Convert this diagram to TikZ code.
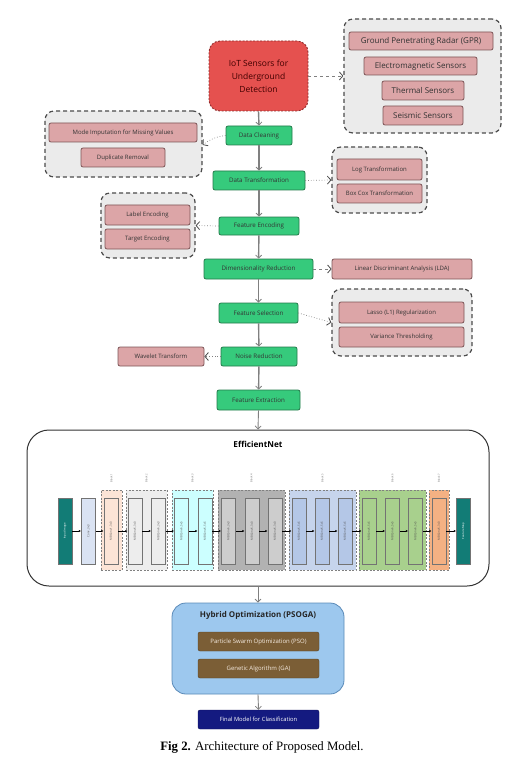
\documentclass[tikz,border=0pt]{standalone}
\usepackage{fontspec}
\setmainfont{Open Sans}
\newfontfamily\capfont{Liberation Serif}
\usetikzlibrary{arrows.meta}
\definecolor{iotred}{HTML}{E5514F}
\definecolor{iotline}{HTML}{8E2B2B}
\definecolor{grpfill}{HTML}{EBEBEB}
\definecolor{pinkfill}{HTML}{DCA5A7}
\definecolor{pinkline}{HTML}{7D5557}
\definecolor{stepgreen}{HTML}{36CA7C}
\definecolor{stepline}{HTML}{23794A}
\definecolor{hybblue}{HTML}{9DC8EE}
\definecolor{hybline}{HTML}{5A8AB8}
\definecolor{psobrown}{HTML}{7B5E36}
\definecolor{finalnavy}{HTML}{141A80}
\definecolor{inputteal}{HTML}{127C76}
\definecolor{convblue}{HTML}{DAE3F3}
\definecolor{blkone}{HTML}{FCE4D6}
\definecolor{blktwo}{HTML}{EDEDED}
\definecolor{blkthree}{HTML}{CCFFFF}
\definecolor{blkfour}{HTML}{B2B2B2}
\definecolor{blkfourin}{HTML}{CDCDCD}
\definecolor{blkfive}{HTML}{C6D4EC}
\definecolor{blkfivein}{HTML}{B4C7E7}
\definecolor{blksix}{HTML}{A8D08D}
\definecolor{blkseven}{HTML}{F4B183}

\begin{document}
\begin{tikzpicture}[x=1pt,y=-1pt,
  stepbox/.style={draw=stepline,fill=stepgreen,rounded corners=2,line width=0.8,inner sep=0,minimum height=19,text=black!80,font=\fontsize{6.2}{7}\selectfont},
  pinkbox/.style={draw=pinkline,fill=pinkfill,rounded corners=2,line width=0.8,inner sep=0,minimum height=19,text=black!80,font=\fontsize{6}{7}\selectfont},
  grpbox/.style={draw=black!70,fill=grpfill,dashed,dash pattern=on 4 off 3,rounded corners=9,line width=1.2,inner sep=0},
  mainarrow/.style={draw=black!50,line width=1.4,-{Straight Barb[length=3,width=6,line width=0.8]}},
  sidearrow/.style={draw=black!50,line width=0.7,dotted,-{Straight Barb[length=3.5,width=8,line width=0.8,black!70]}},
  mbbox/.style={draw=black!55,line width=0.5,rotate=90,minimum width=66,minimum height=14,inner sep=0,text=black!70,font=\fontsize{2.8}{3}\selectfont},
  blkbox/.style={draw=black!50,dashed,dash pattern=on 2 off 1.5,line width=0.6,inner sep=0,minimum height=80},
  blklabel/.style={rotate=90,text=black!60,font=\fontsize{2.6}{3}\selectfont},
  netarrow/.style={draw=black,line width=0.5,-{Latex[length=2.5,width=2.2]}}]
\useasboundingbox (0,0) rectangle (521,767);

\node[draw=iotline,fill=iotred,dashed,dash pattern=on 2 off 1.5,line width=0.9,rounded corners=11,minimum width=99,minimum height=70,align=center,text=black!75!red,font=\fontsize{8.5}{13}\selectfont] (iot) at (258.5,76) {IoT Sensors for\\Underground\\Detection};

\node[grpbox,minimum width=157,minimum height=114] (gsens) at (422.5,76) {};
\node[pinkbox,minimum width=144,minimum height=18,font=\fontsize{8}{9}\selectfont] (gpr) at (421,41) {Ground Penetrating Radar (GPR)};
\node[pinkbox,minimum width=113,minimum height=18,font=\fontsize{8}{9}\selectfont] (ems) at (420.5,66) {Electromagnetic Sensors};
\node[pinkbox,minimum width=82,font=\fontsize{8}{9}\selectfont] (ths) at (423,90.5) {Thermal Sensors};
\node[pinkbox,minimum width=80,font=\fontsize{8}{9}\selectfont] (sss) at (423,115.5) {Seismic Sensors};

\node[grpbox,minimum width=157,minimum height=66] (gclean) at (123.5,144) {};
\node[pinkbox,minimum width=148] (mode) at (123,132.5) {Mode Imputation for Missing Values};
\node[pinkbox,minimum width=84] (dup) at (123,157.5) {Duplicate Removal};

\node[grpbox,minimum width=95,minimum height=66] (gtrans) at (379.5,180) {};
\node[pinkbox,minimum width=85,minimum height=21] (logt) at (379.5,169.5) {Log Transformation};
\node[pinkbox,minimum width=85] (boxc) at (379.5,193.5) {Box Cox Transformation};

\node[grpbox,minimum width=94,minimum height=65] (genc) at (148,225.5) {};
\node[pinkbox,minimum width=85,minimum height=20] (labe) at (147.5,215) {Label Encoding};
\node[pinkbox,minimum width=85,minimum height=20] (tare) at (147.5,239) {Target Encoding};

\node[pinkbox,minimum width=140,minimum height=20] (lda) at (402,269) {Linear Discriminant Analysis (LDA)};

\node[grpbox,minimum width=140,minimum height=67] (gsel) at (402,322.5) {};
\node[pinkbox,minimum width=125,minimum height=21] (lasso) at (401.5,312.5) {Lasso (L1) Regularization};
\node[pinkbox,minimum width=125,minimum height=20] (vart) at (401.5,337) {Variance Thresholding};

\node[pinkbox,minimum width=86] (wav) at (161,356.5) {Wavelet Transform};

\node[stepbox,minimum width=66] (dc) at (259,135.5) {Data Cleaning};
\node[stepbox,minimum width=92] (dt) at (259,180.5) {Data Transformation};
\node[stepbox,minimum width=80,minimum height=18] (fen) at (259,226) {Feature Encoding};
\node[stepbox,minimum width=109,minimum height=20] (dr) at (258.5,269) {Dimensionality Reduction};
\node[stepbox,minimum width=79,minimum height=20] (fs) at (258.5,313) {Feature Selection};
\node[stepbox,minimum width=76] (nr) at (259,356.5) {Noise Reduction};
\node[stepbox,minimum width=83,minimum height=20] (fx) at (258.5,400) {Feature Extraction};

\draw[mainarrow] (iot.south) -- (dc.north);
\draw[mainarrow] (dc) -- (dt);
\draw[mainarrow] (dt) -- (fen);
\draw[mainarrow] (fen) -- (dr);
\draw[mainarrow] (dr) -- (fs);
\draw[mainarrow] (fs) -- (nr);
\draw[mainarrow] (nr) -- (fx);

\draw[sidearrow,dashed] (iot.east) -- (gsens.west);
\draw[sidearrow] (dc.west) to[bend right=15] ([yshift=-1]gclean.east);
\draw[sidearrow] (dt.east) -- (gtrans.west);
\draw[sidearrow] (fen.west) -- (genc.east);
\draw[sidearrow,dashed] (dr.east) -- (lda.west);
\draw[sidearrow] (fs.east) -- (gsel.west);
\draw[sidearrow] (nr.west) -- (wav.east);

\node[draw=black!80,line width=1,rounded corners=22,minimum width=462,minimum height=156,inner sep=0] (eff) at (258,508) {};
\node[font=\fontsize{8.2}{9}\selectfont\bfseries] (efft) at (258,444) {EfficientNet};

\node[blkbox,fill=blkone,minimum width=21] (b1) at (111.5,530) {};
\node[blkbox,fill=blktwo,minimum width=41] (b2) at (146.5,530) {};
\node[blkbox,fill=blkthree,minimum width=41] (b3) at (192.5,530) {};
\node[blkbox,fill=blkfour,minimum width=67] (b4) at (251.5,530) {};
\node[blkbox,fill=blkfive,minimum width=67] (b5) at (322.5,530) {};
\node[blkbox,fill=blksix,minimum width=67] (b6) at (392.5,530) {};
\node[blkbox,fill=blkseven,minimum width=20] (b7) at (439,530) {};
\foreach \x [count=\i] in {111.5,146.5,192.5,251.5,322.5,392.5,439}
  \node[blklabel] (l\i) at (\x,478) {Block \i};

\foreach \x/\t/\c/\f [count=\i] in {65/{Input Image}/inputteal/white,88.5/{Conv, 3x3}/convblue/black!70,
    111/{MBConv1, 3x3}/blkone/black!70,135/{MBConv6, 3x3}/blktwo/black!70,158.5/{MBConv6, 3x3}/blktwo/black!70,
    181.5/{MBConv6, 5x5}/blkthree/black!70,205/{MBConv6, 5x5}/blkthree/black!70,
    228.5/{MBConv6, 3x3}/blkfourin/black!70,252/{MBConv6, 3x3}/blkfourin/black!70,275/{MBConv6, 3x3}/blkfourin/black!70,
    299/{MBConv6, 5x5}/blkfivein/black!70,322/{MBConv6, 5x5}/blkfivein/black!70,345/{MBConv6, 5x5}/blkfivein/black!70,
    369/{MBConv6, 5x5}/blksix/black!70,392.5/{MBConv6, 5x5}/blksix/black!70,415.5/{MBConv6, 5x5}/blksix/black!70,
    439/{MBConv6, 3x3}/blkseven/black!70,463.5/{Feature Map}/inputteal/white}
  \node[mbbox,fill=\c,text=\f] (m\i) at (\x,531) {\t};
\foreach \i [count=\j from 2] in {1,...,17}
  \draw[netarrow] (m\i) -- (m\j);

\node[draw=hybline,fill=hybblue,line width=0.8,rounded corners=14,minimum width=172,minimum height=91,inner sep=0] (hyb) at (258,648.5) {};
\node[font=\fontsize{8}{9}\selectfont\bfseries,text=black!85] (hybt) at (258,615) {Hybrid Optimization (PSOGA)};
\node[fill=psobrown,draw=psobrown!70!black,rounded corners=2,minimum width=121,minimum height=19,inner sep=0,text=white!85!brown,font=\fontsize{6}{7}\selectfont] (pso) at (258.5,641.5) {Particle Swarm Optimization (PSO)};
\node[fill=psobrown,draw=psobrown!70!black,rounded corners=2,minimum width=121,minimum height=19,inner sep=0,text=white!85!brown,font=\fontsize{6}{7}\selectfont] (ga) at (258.5,668.5) {Genetic Algorithm (GA)};
\node[fill=finalnavy,draw=finalnavy!70!black,rounded corners=2,minimum width=121,minimum height=19,inner sep=0,text=white,font=\fontsize{5.8}{7}\selectfont] (fin) at (258.5,719.5) {Final Model for Classification};

\draw[mainarrow,line width=0.9] (fx.south) -- (eff.north);
\draw[mainarrow,line width=0.9] (eff.south) -- (hyb.north);
\draw[mainarrow,line width=0.9] (hyb.south) -- (fin.north);

\node[font=\capfont\fontsize{12.8}{14}\selectfont] (cap) at (262,747) {\textbf{Fig 2.} Architecture of Proposed Model.};
\end{tikzpicture}
\end{document}
